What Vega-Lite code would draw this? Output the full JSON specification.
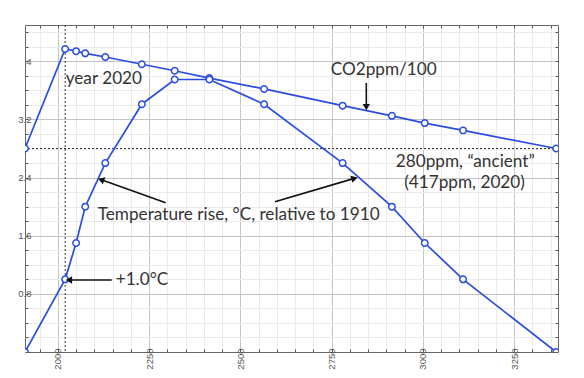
{
  "$schema": "https://vega.github.io/schema/vega-lite/v6.json",
  "width": 533,
  "height": 327,
  "autosize": {"type": "none"},
  "padding": {"left": 25, "top": 25, "right": 26, "bottom": 26},
  "background": "white",
  "config": {
    "view": {"stroke": "#666", "strokeWidth": 1},
    "axis": {"domain": false, "labelFont": "Liberation Sans", "labelFontSize": 9.5, "labelColor": "#555", "tickColor": "#555", "title": null}
  },
  "datasets": {
    "series": [
      {"year": 1910, "value": 2.8, "s": "co2"},
      {"year": 2020, "value": 4.17, "s": "co2"},
      {"year": 2050, "value": 4.14, "s": "co2"},
      {"year": 2075, "value": 4.11, "s": "co2"},
      {"year": 2130, "value": 4.06, "s": "co2"},
      {"year": 2230, "value": 3.96, "s": "co2"},
      {"year": 2320, "value": 3.87, "s": "co2"},
      {"year": 2415, "value": 3.77, "s": "co2"},
      {"year": 2565, "value": 3.62, "s": "co2"},
      {"year": 2780, "value": 3.39, "s": "co2"},
      {"year": 2915, "value": 3.25, "s": "co2"},
      {"year": 3005, "value": 3.15, "s": "co2"},
      {"year": 3110, "value": 3.05, "s": "co2"},
      {"year": 3365, "value": 2.8, "s": "co2"},
      {"year": 1910, "value": 0, "s": "temp"},
      {"year": 2020, "value": 1.0, "s": "temp"},
      {"year": 2050, "value": 1.5, "s": "temp"},
      {"year": 2075, "value": 2.0, "s": "temp"},
      {"year": 2130, "value": 2.6, "s": "temp"},
      {"year": 2230, "value": 3.41, "s": "temp"},
      {"year": 2320, "value": 3.75, "s": "temp"},
      {"year": 2415, "value": 3.75, "s": "temp"},
      {"year": 2565, "value": 3.41, "s": "temp"},
      {"year": 2780, "value": 2.6, "s": "temp"},
      {"year": 2915, "value": 2.0, "s": "temp"},
      {"year": 3005, "value": 1.5, "s": "temp"},
      {"year": 3110, "value": 1.0, "s": "temp"},
      {"year": 3365, "value": 0, "s": "temp"}
    ],
    "texts": [
      {"year": 2126, "value": 3.757, "label": "year 2020", "a": "c"},
      {"year": 2892.6, "value": 3.881, "label": "CO2ppm/100", "a": "c"},
      {"year": 3116, "value": 2.611, "label": "280ppm, “ancient”", "a": "c"},
      {"year": 3114, "value": 2.322, "label": "(417ppm, 2020)", "a": "c"},
      {"year": 2495.4, "value": 1.885, "label": "Temperature rise, °C, relative to 1910", "a": "c"},
      {"year": 2158.4, "value": 0.991, "label": "+1.0°C", "a": "l"}
    ],
    "arrows": [
      {"id": "co2", "x1": 2844.9, "y1": 3.702, "x2": 2844.9, "y2": 3.385},
      {"id": "tl", "x1": 2295.4, "y1": 2.055, "x2": 2121.2, "y2": 2.366},
      {"id": "tr", "x1": 2594.8, "y1": 2.068, "x2": 2809.8, "y2": 2.386},
      {"id": "one", "x1": 2147.5, "y1": 0.991, "x2": 2033.3, "y2": 0.991}
    ],
    "refs": [
      {"year": 2020, "value": 2.8}
    ]
  },
  "layer": [
    {
      "data": {"name": "refs"},
      "mark": {"type": "rule", "color": "#333", "strokeDash": [2, 2], "strokeWidth": 1},
      "encoding": {
        "x": {"field": "year", "type": "quantitative", "scale": {"domain": [1910, 3370], "nice": false, "zero": false}, "axis": null}
      }
    },
    {
      "data": {"name": "refs"},
      "mark": {"type": "rule", "color": "#333", "strokeDash": [2, 2], "strokeWidth": 1},
      "encoding": {
        "y": {"field": "value", "type": "quantitative", "scale": {"domain": [0, 4.5], "nice": false}, "axis": null}
      }
    },
    {
      "data": {"name": "series"},
      "transform": [{"filter": "datum.s === 'co2'"}],
      "mark": {"type": "line", "color": "#2a4de0", "strokeWidth": 1.7, "clip": true},
      "encoding": {
        "x": {"field": "year", "type": "quantitative", "scale": {"domain": [1910, 3370], "nice": false, "zero": false},
          "axis": {"orient": "bottom", "values": [1950,2000,2050,2100,2150,2200,2250,2300,2350,2400,2450,2500,2550,2600,2650,2700,2750,2800,2850,2900,2950,3000,3050,3100,3150,3200,3250,3300,3350],
            "format": "d", "labelExpr": "datum.value % 250 === 0 ? datum.label : ''", "labelAngle": -90, "labelPadding": -1, "tickSize": -3,
            "grid": true, "gridColor": {"condition": {"test": "datum.value % 250 === 0", "value": "#c4c4c4"}, "value": "#ebebeb"}, "gridWidth": 1}},
        "y": {"field": "value", "type": "quantitative", "scale": {"domain": [0, 4.5], "nice": false},
          "axis": {"orient": "left", "values": [0.2,0.4,0.6,0.8,1,1.2,1.4,1.6,1.8,2,2.2,2.4,2.6,2.8,3,3.2,3.4,3.6,3.8,4,4.2,4.4],
            "format": ".2~f", "labelExpr": "abs(datum.value/0.8 - round(datum.value/0.8)) < 0.001 ? datum.label : ''", "labelPadding": -3, "tickSize": -3,
            "grid": true, "gridColor": {"condition": {"test": "abs(datum.value/0.8 - round(datum.value/0.8)) < 0.001", "value": "#c4c4c4"}, "value": "#ebebeb"}, "gridWidth": 1}}
      }
    },
    {
      "data": {"name": "series"},
      "transform": [{"filter": "datum.s === 'temp'"}],
      "mark": {"type": "line", "color": "#2a4de0", "strokeWidth": 1.7, "clip": true},
      "encoding": {
        "x": {"field": "year", "type": "quantitative", "scale": {"domain": [1910, 3370], "nice": false, "zero": false},
          "axis": {"orient": "top", "values": [1950,2000,2050,2100,2150,2200,2250,2300,2350,2400,2450,2500,2550,2600,2650,2700,2750,2800,2850,2900,2950,3000,3050,3100,3150,3200,3250,3300,3350],
            "labels": false, "tickSize": -3, "grid": false}},
        "y": {"field": "value", "type": "quantitative", "scale": {"domain": [0, 4.5], "nice": false},
          "axis": {"orient": "right", "values": [0.2,0.4,0.6,0.8,1,1.2,1.4,1.6,1.8,2,2.2,2.4,2.6,2.8,3,3.2,3.4,3.6,3.8,4,4.2,4.4],
            "labels": false, "tickSize": -3, "grid": false}}
      }
    },
    {
      "data": {"name": "series"},
      "mark": {"type": "point", "shape": "circle", "filled": true, "fill": "white", "stroke": "#2a4de0", "strokeWidth": 1.5, "size": 42, "opacity": 1, "clip": true},
      "encoding": {
        "x": {"field": "year", "type": "quantitative", "axis": null},
        "y": {"field": "value", "type": "quantitative", "axis": null}
      }
    },
    {
      "data": {"name": "arrows"},
      "mark": {"type": "rule", "color": "#111", "strokeWidth": 1.6},
      "encoding": {
        "x": {"field": "x1", "type": "quantitative", "axis": null},
        "y": {"field": "y1", "type": "quantitative", "axis": null},
        "x2": {"field": "x2"},
        "y2": {"field": "y2"}
      }
    },
    {
      "data": {"name": "arrows"},
      "transform": [{"filter": "datum.id === 'co2'"}],
      "mark": {"type": "point", "shape": "triangle", "filled": true, "color": "#111", "size": 55, "angle": 180, "opacity": 1},
      "encoding": {
        "x": {"field": "x2", "type": "quantitative", "axis": null},
        "y": {"field": "y2", "type": "quantitative", "axis": null}
      }
    },
    {
      "data": {"name": "arrows"},
      "transform": [{"filter": "datum.id === 'tl'"}],
      "mark": {"type": "point", "shape": "triangle", "filled": true, "color": "#111", "size": 55, "angle": 289.6, "opacity": 1},
      "encoding": {
        "x": {"field": "x2", "type": "quantitative", "axis": null},
        "y": {"field": "y2", "type": "quantitative", "axis": null}
      }
    },
    {
      "data": {"name": "arrows"},
      "transform": [{"filter": "datum.id === 'tr'"}],
      "mark": {"type": "point", "shape": "triangle", "filled": true, "color": "#111", "size": 55, "angle": 73.6, "opacity": 1},
      "encoding": {
        "x": {"field": "x2", "type": "quantitative", "axis": null},
        "y": {"field": "y2", "type": "quantitative", "axis": null}
      }
    },
    {
      "data": {"name": "arrows"},
      "transform": [{"filter": "datum.id === 'one'"}],
      "mark": {"type": "point", "shape": "triangle", "filled": true, "color": "#111", "size": 55, "angle": 270, "opacity": 1},
      "encoding": {
        "x": {"field": "x2", "type": "quantitative", "axis": null},
        "y": {"field": "y2", "type": "quantitative", "axis": null}
      }
    },
    {
      "data": {"name": "texts"},
      "transform": [{"filter": "datum.a === 'c'"}],
      "mark": {"type": "text", "font": "Lato", "fontSize": 17.2, "color": "#333", "align": "center", "baseline": "middle"},
      "encoding": {
        "x": {"field": "year", "type": "quantitative", "axis": null},
        "y": {"field": "value", "type": "quantitative", "axis": null},
        "text": {"field": "label"}
      }
    },
    {
      "data": {"name": "texts"},
      "transform": [{"filter": "datum.a === 'l'"}],
      "mark": {"type": "text", "font": "Lato", "fontSize": 17.2, "color": "#333", "align": "left", "baseline": "middle"},
      "encoding": {
        "x": {"field": "year", "type": "quantitative", "axis": null},
        "y": {"field": "value", "type": "quantitative", "axis": null},
        "text": {"field": "label"}
      }
    }
  ]
}
